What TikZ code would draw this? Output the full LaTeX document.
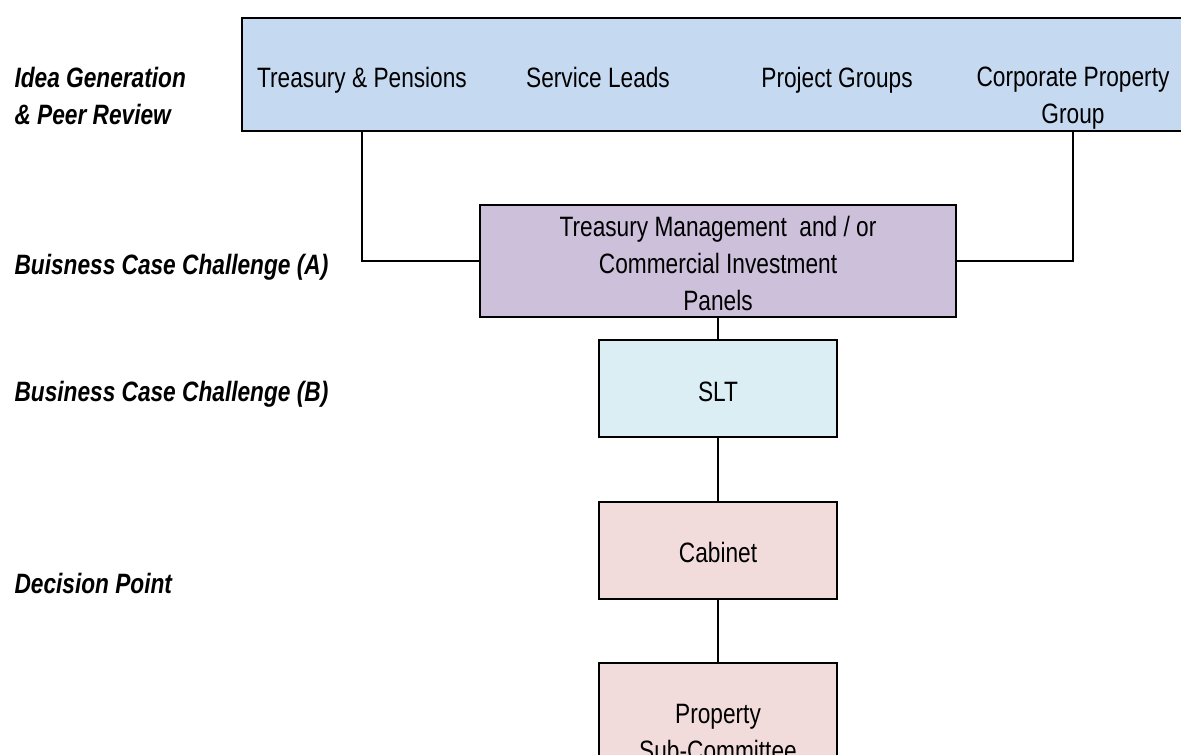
\documentclass[tikz,border=0pt]{standalone}
\usepackage{fontspec}
\setmainfont{Liberation Sans}[FakeStretch=0.81]
\usetikzlibrary{positioning}
\definecolor{ideaBlue}{RGB}{197,217,241}
\definecolor{panelLilac}{RGB}{204,192,218}
\definecolor{sltBlue}{RGB}{218,238,243}
\definecolor{decisionPink}{RGB}{242,220,219}
\tikzstyle{chart} = [x = 1pt, y = -1pt]
\tikzstyle{boxStyle} = [draw=black, line width=2.4pt, rectangle, inner sep=0pt]
\tikzstyle{boxText} = [font=\fontsize{28}{37}\selectfont, align=center]
\tikzstyle{lineText} = [boxText, text height=21pt, text depth=6pt]
\tikzstyle{stageText} = [font=\fontsize{28}{37}\selectfont\bfseries\itshape, anchor=west, align=left]
\tikzstyle{stageLine} = [stageText, text height=21pt, text depth=6pt]
\tikzstyle{linkLine} = [color=black, line width=2.4pt]
\newcommand{\stageBox}[6]{\node [boxStyle, fill=#2, minimum width=#5, minimum height=#6] (#1) at (#3,#4) {};}
\begin{document}
\begin{tikzpicture}[chart]
  \useasboundingbox (0,0) rectangle (1181,755);
  % stages down the left
  \node [stageText] (ideaStage) at (11,95.5) {Idea Generation\\\& Peer Review};
  \node [stageLine] (caseA) at (11,266.5) {Buisness Case Challenge (A)};
  \node [stageLine] (caseB) at (11,393.5) {Business Case Challenge (B)};
  \node [stageLine] (decision) at (11,585.5) {Decision Point};

  % boxes
  \stageBox{ideas}{ideaBlue}{713.5}{74.5}{943pt}{113pt}
  \stageBox{panel}{panelLilac}{718}{261}{476pt}{112pt}
  \stageBox{slt}{sltBlue}{718}{388.5}{238pt}{97pt}
  \stageBox{cabinet}{decisionPink}{718}{550.5}{238pt}{97pt}
  \stageBox{subCommittee}{decisionPink}{718}{730}{238pt}{134pt}

  % texts
  \node [lineText] (tp) at (362,79.5) {Treasury \& Pensions};
  \node [lineText] (leads) at (598,79.5) {Service Leads};
  \node [lineText] (projects) at (837,79.5) {Project Groups};
  \node [boxText] (cpg) at (1073,98.5) {Corporate Property\\Group};
  \node [boxText] (panelText) at (718,263.5) {Treasury Management~ and / or\\Commercial Investment\\Panels};
  \node [lineText] (sltText) at (718,393.5) {SLT};
  \node [lineText] (cabinetText) at (718,554.5) {Cabinet};
  \node [boxText] (subText) at (718,732) {Property\\Sub-Committee};

  % links
  \draw [linkLine] (tp |- ideas.south) |- (panel.west);
  \draw [linkLine] (cpg |- ideas.south) |- (panel.east);
  \draw [linkLine] (panel) -- (slt);
  \draw [linkLine] (slt) -- (cabinet);
  \draw [linkLine] (cabinet) -- (subCommittee);
\end{tikzpicture}
\end{document}
